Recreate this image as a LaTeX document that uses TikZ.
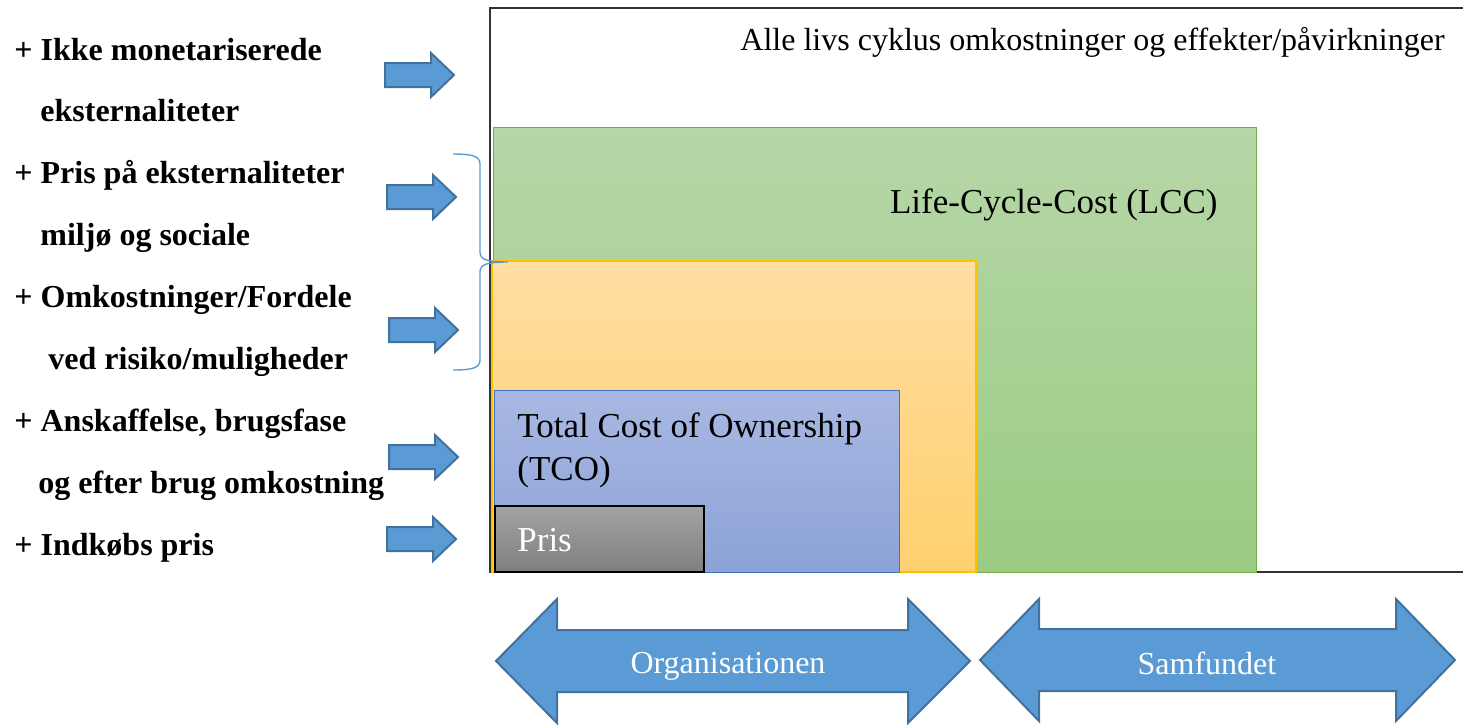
\documentclass[tikz,border=0pt]{standalone}
\usepackage{fontspec}
\setmainfont{Liberation Serif}
\usepackage{xcolor}
\usepackage{tikz}
\usetikzlibrary{positioning}

\definecolor{lcctop}{HTML}{B6D7A8}
\definecolor{lccbot}{HTML}{9BCB83}
\definecolor{lccline}{HTML}{70AD47}
\definecolor{tcotop}{HTML}{FFDEA2}
\definecolor{tcobot}{HTML}{FFD06E}
\definecolor{tcoline}{HTML}{FFC000}
\definecolor{owntop}{HTML}{A8B8E2}
\definecolor{ownbot}{HTML}{8CA3D7}
\definecolor{ownline}{HTML}{4472C4}
\definecolor{pristop}{HTML}{A3A3A3}
\definecolor{prisbot}{HTML}{7F7F7F}
\definecolor{arrowfill}{HTML}{5B9BD5}
\definecolor{arrowline}{HTML}{41719C}

\tikzset{
  leftlabel/.style={anchor=base west, inner sep=0pt, font=\fontsize{16}{19}\selectfont\bfseries},
  boxtext/.style={inner sep=0pt, font=\fontsize{17.5}{21}\selectfont},
  sidearrow/.style={fill=arrowfill, draw=arrowline, line width=1pt, line join=miter},
  bigarrow/.style={fill=arrowfill, draw=arrowline, line width=1pt},
}

\begin{document}
\begin{tikzpicture}[x=0.5pt,y=-0.5pt]
  \useasboundingbox (0,0) rectangle (1463,725);

  % outer frame
  \draw[line width=1pt, black!80] (1463,8) -- (490,8) -- (490,572) -- (1463,572);
  \node (alle) [boxtext, anchor=base east, font=\fontsize{16}{19}\selectfont] at (1445,50) {Alle livs cyklus omkostninger og effekter/påvirkninger};

  % nested boxes
  \draw[lccline, top color=lcctop, bottom color=lccbot] (493,127) rectangle (1256,572);
  \node (lcc) [boxtext, anchor=base east] at (1218,213) {Life-Cycle-Cost (LCC)};
  \draw[tcoline, line width=0.8pt, top color=tcotop, bottom color=tcobot] (492,261) rectangle (976,572);
  \draw[ownline, top color=owntop, bottom color=ownbot] (494,390) rectangle (899,572);
  \node (tco) [boxtext, anchor=base west] at (517,437) {Total Cost of Ownership};
  \node (tcoabbr) [boxtext, anchor=base west] at (517,480) {(TCO)};
  \draw[black, line width=0.6pt, top color=pristop, bottom color=prisbot] (495,506) rectangle (704,572);
  \node (pris) [boxtext, anchor=base west, text=white] at (517,551) {Pris};

  % labels on the left
  \node (ikke)    [leftlabel] at (14,60)  {+ Ikke monetariserede};
  \node (ikke2)   [leftlabel] at (40,121) {eksternaliteter};
  \node (eksprix) [leftlabel] at (14,183) {+ Pris på eksternaliteter};
  \node (eksprix2)[leftlabel] at (40,245) {miljø og sociale};
  \node (risiko)  [leftlabel] at (14,307) {+ Omkostninger/Fordele};
  \node (risiko2) [leftlabel] at (48,369) {ved risiko/muligheder};
  \node (anskaf)  [leftlabel] at (14,431) {+ Anskaffelse, brugsfase};
  \node (anskaf2) [leftlabel] at (38,493) {og efter brug omkostning};
  \node (indkob)  [leftlabel] at (14,555) {+ Indkøbs pris};

  \foreach \x/\y in {385/75, 387/197, 389/330, 389/457, 387/539}
    \draw[sidearrow] (\x,\y-12) -- ++(46,0) -- ++(0,-10) -- ++(23,22) -- ++(-23,22) -- ++(0,-10) -- ++(-46,0) -- cycle;

  % brace
  \draw[arrowfill, line width=0.7pt] (453,154) .. controls (472,154) and (480,156) .. (480,164) -- (480,252)
    .. controls (480,260) and (488,262) .. (508,262)
    .. controls (488,262) and (480,264) .. (480,272) -- (480,360)
    .. controls (480,368) and (472,370) .. (453,370);

  % bottom arrows
  \draw[bigarrow] (496,661) -- (557,599) -- (557,630) -- (908,630) -- (908,599) -- (970,661)
    -- (908,723) -- (908,692) -- (557,692) -- (557,723) -- cycle;
  \node (org) [boxtext, text=white, font=\fontsize{16}{19}\selectfont] at (728,666) {Organisationen};
  \draw[bigarrow] (980,660) -- (1039,599) -- (1039,629) -- (1396,629) -- (1396,599) -- (1455,660)
    -- (1396,721) -- (1396,691) -- (1039,691) -- (1039,721) -- cycle;
  \node (samf) [boxtext, text=white, font=\fontsize{16}{19}\selectfont] at (1207,663) {Samfundet};
\end{tikzpicture}
\end{document}
